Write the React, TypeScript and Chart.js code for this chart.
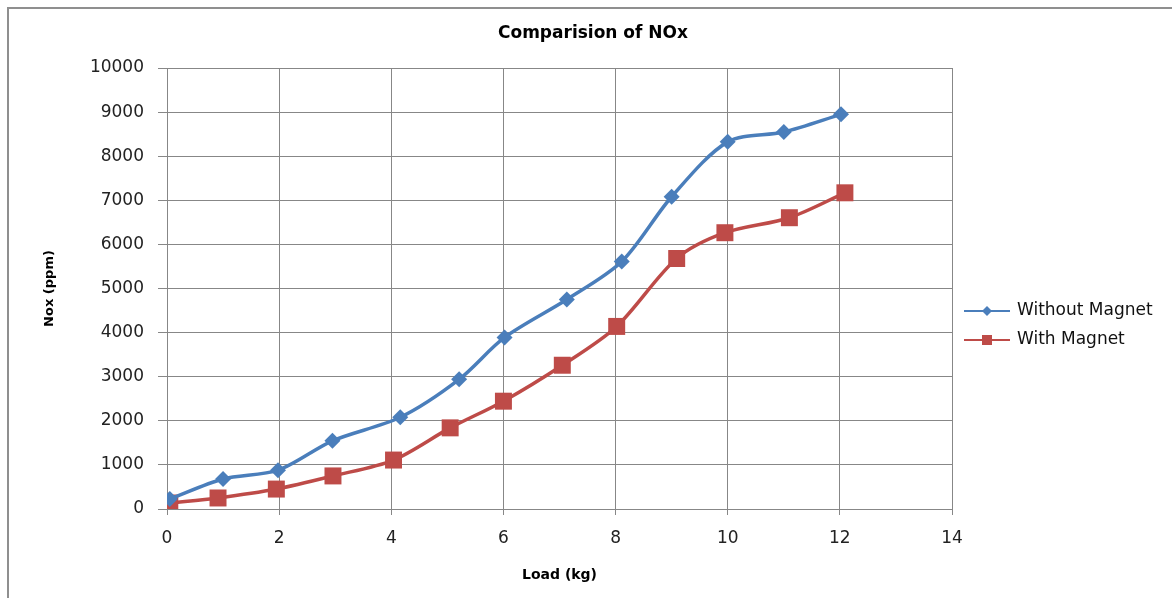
import React, { useEffect, useRef } from "react";
import { Chart, registerables } from "chart.js";

Chart.register(...registerables);

const chartTitle = "Comparision of NOx";
const xAxisTitle = "Load (kg)";
const yAxisTitle = "Nox (ppm)";
const seriesNames = ["Without Magnet", "With Magnet"];

const withoutLoad = [0.05, 1.0, 1.98, 2.95, 4.16, 5.21, 6.02, 7.13, 8.11, 9.0, 10.0, 11.0, 12.02];
const withoutNox = [226, 680, 880, 1545, 2080, 2940, 3890, 4750, 5610, 7080, 8325, 8550, 8950];

const withLoad = [0.05, 0.91, 1.95, 2.96, 4.04, 5.05, 6.0, 7.05, 8.02, 9.09, 9.95, 11.1, 12.09];
const withNox = [136, 250, 452, 750, 1110, 1840, 2445, 3260, 4140, 5680, 6265, 6605, 7170];

const xTicks = [0, 2, 4, 6, 8, 10, 12, 14];
const yTicks = [0, 1000, 2000, 3000, 4000, 5000, 6000, 7000, 8000, 9000, 10000];

const BLUE = "#4A7EBB";
const RED = "#BE4B48";
const GRID = "#878787";
const FONT = "'DejaVu Sans', sans-serif";

const decorPlugin = {
  id: "decor",
  beforeDraw(chart: any) {
    const ctx = chart.ctx;
    ctx.save();
    ctx.fillStyle = "#ffffff";
    ctx.fillRect(0, 0, chart.width, chart.height);
    ctx.strokeStyle = "#8f8f8f";
    ctx.lineWidth = 2;
    ctx.beginPath();
    ctx.moveTo(8, chart.height);
    ctx.lineTo(8, 8);
    ctx.lineTo(chart.width, 8);
    ctx.stroke();
    ctx.restore();
  },
  afterDraw(chart: any) {
    const ctx = chart.ctx;
    ctx.save();
    ctx.font = `bold 17px ${FONT}`;
    ctx.fillStyle = "#000";
    ctx.textAlign = "center";
    ctx.textBaseline = "middle";
    ctx.fillText(chartTitle, 593, 34);
    chart.data.datasets.forEach((ds: any, i: number) => {
      const y = 311 + i * 29;
      ctx.strokeStyle = ds.borderColor;
      ctx.lineWidth = 2;
      ctx.beginPath();
      ctx.moveTo(964, y);
      ctx.lineTo(1010, y);
      ctx.stroke();
      ctx.fillStyle = ds.backgroundColor;
      ctx.beginPath();
      if (ds.pointStyle === "rectRot") {
        const r = 5;
        ctx.moveTo(987, y - r);
        ctx.lineTo(987 + r, y);
        ctx.lineTo(987, y + r);
        ctx.lineTo(987 - r, y);
        ctx.closePath();
      } else {
        ctx.rect(987 - 5, y - 5, 10, 10);
      }
      ctx.fill();
      ctx.font = `17px ${FONT}`;
      ctx.fillStyle = "#111";
      ctx.textAlign = "left";
      ctx.textBaseline = "middle";
      ctx.fillText(ds.label, 1017, y);
    });
    ctx.restore();
  },
};

export default function App() {
  const ref = useRef<HTMLCanvasElement | null>(null);

  useEffect(() => {
    if (!ref.current) return;
    const chart = new Chart(ref.current, {
      type: "line",
      data: {
        datasets: [
          {
            label: seriesNames[0],
            data: withoutLoad.map((x, i) => ({ x, y: withoutNox[i] })),
            borderColor: BLUE,
            backgroundColor: BLUE,
            borderWidth: 3.5,
            pointStyle: "rectRot",
            pointRadius: 8,
            pointBorderWidth: 0,
            tension: 0.3,
          },
          {
            label: seriesNames[1],
            data: withLoad.map((x, i) => ({ x, y: withNox[i] })),
            borderColor: RED,
            backgroundColor: RED,
            borderWidth: 3.5,
            pointStyle: "rect",
            pointRadius: 12,
            pointBorderWidth: 0,
            tension: 0.3,
          },
        ],
      },
      options: {
        responsive: false,
        animation: false,
        layout: { padding: { left: 8, right: 220, top: 68, bottom: 0 } },
        plugins: {
          legend: { display: false },
          title: { display: false },
          tooltip: { enabled: false },
        },
        scales: {
          x: {
            type: "linear",
            min: xTicks[0],
            max: xTicks[xTicks.length - 1],
            afterBuildTicks: (s: any) => {
              s.ticks = xTicks.map((v) => ({ value: v }));
            },
            afterFit: (s: any) => {
              s.height = 89;
            },
            grid: { color: GRID, lineWidth: 1, tickLength: 6, tickColor: GRID },
            border: { color: GRID, width: 1 },
            ticks: {
              padding: 13,
              color: "#222",
              font: { family: FONT, size: 17 },
              callback: (v: any) => String(v),
            },
            title: {
              display: true,
              text: xAxisTitle,
              color: "#000",
              font: { family: FONT, size: 14, weight: "bold" },
              padding: { top: 0, bottom: 14 },
            },
          },
          y: {
            type: "linear",
            min: yTicks[0],
            max: yTicks[yTicks.length - 1],
            afterBuildTicks: (s: any) => {
              s.ticks = yTicks.map((v) => ({ value: v }));
            },
            afterFit: (s: any) => {
              s.width = 159;
            },
            grid: { color: GRID, lineWidth: 1, tickLength: 9, tickColor: GRID },
            border: { color: GRID, width: 1 },
            ticks: {
              padding: 14,
              color: "#222",
              font: { family: FONT, size: 17 },
              callback: (v: any) => String(v),
            },
            title: {
              display: true,
              text: yAxisTitle,
              color: "#000",
              font: { family: FONT, size: 13, weight: "bold" },
              padding: { top: 34, bottom: 0 },
            },
          },
        },
      },
      plugins: [decorPlugin],
    } as any);
    return () => chart.destroy();
  }, []);

  return (
    <div style={{ position: "absolute", left: 0, top: 0, width: 1172, height: 598, background: "#fff" }}>
      <canvas ref={ref} width={1172} height={598} style={{ display: "block" }} />
    </div>
  );
}
